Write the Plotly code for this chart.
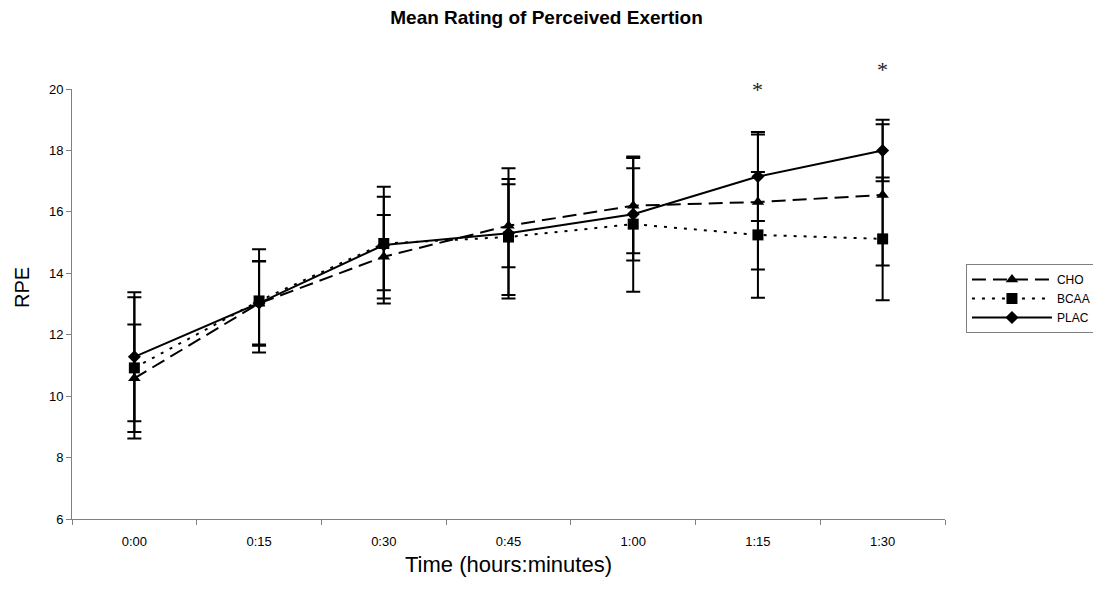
import plotly.graph_objects as go

times = ["0:00", "0:15", "0:30", "0:45", "1:00", "1:15", "1:30"]

cho_mean = [10.58, 13.02, 14.54, 15.55, 16.20, 16.32, 16.55]
cho_sd = [1.75, 1.38, 1.36, 1.35, 1.55, 2.20, 2.30]

bcaa_mean = [10.92, 13.10, 14.97, 15.18, 15.60, 15.25, 15.12]
bcaa_sd = [2.30, 1.68, 1.52, 1.89, 2.20, 2.05, 2.00]

plac_mean = [11.28, 13.03, 14.92, 15.30, 15.92, 17.15, 18.00]
plac_sd = [2.10, 1.35, 1.90, 2.12, 1.50, 1.45, 1.00]

sig_times = ["1:15", "1:30"]
sig_y = [20.0, 20.65]

Y_MIN, Y_MAX = 6, 20

series = [
    ("CHO", cho_mean, cho_sd, "14px,7px", "triangle-up", 11),
    ("BCAA", bcaa_mean, bcaa_sd, "3px,7px", "square", 11),
    ("PLAC", plac_mean, plac_sd, "solid", "diamond", 10),
]

fig = go.Figure()
for name, m, sd, dash, sym, size in series:
    fig.add_trace(go.Scatter(
        x=times, y=m, name=name, mode="lines+markers",
        line=dict(color="black", width=2, dash=dash),
        marker=dict(symbol=sym, size=size, color="black"),
        error_y=dict(type="data", array=sd, visible=True,
                     color="black", thickness=2, width=7),
    ))

for t, yv in zip(sig_times, sig_y):
    fig.add_annotation(x=t, y=(yv - Y_MIN) / (Y_MAX - Y_MIN), xref="x", yref="paper",
                       text="*", showarrow=False, yanchor="middle",
                       font=dict(family="Liberation Serif", size=22, color="#222"))

fig.add_annotation(x=0, y=(519 - 288) / 430, xref="paper", yref="paper",
                   xanchor="center", yanchor="middle", xshift=-50,
                   text="RPE", textangle=-90, showarrow=False,
                   font=dict(size=20))

fig.update_layout(
    width=1093, height=592,
    margin=dict(l=72, r=148, t=89, b=73, autoexpand=False),
    paper_bgcolor="white", plot_bgcolor="white",
    font=dict(family="Liberation Sans, Arial", color="black", size=13),
    title=dict(text="<b>Mean Rating of Perceived Exertion</b>",
               x=(546.5 - 72) / 873, xref="paper", xanchor="center",
               y=1 - 17 / 592, yref="container", yanchor="middle",
               font=dict(size=19, family="Liberation Sans, Arial")),
    showlegend=True,
    legend=dict(x=1.024, y=0.593, xanchor="left", yanchor="top",
                bordercolor="#808080", borderwidth=1, bgcolor="white",
                font=dict(size=12), tracegroupgap=0, itemwidth=80),
)

fig.update_xaxes(
    type="category", range=[-0.5, 6.5],
    showline=True, linecolor="#808080", linewidth=1,
    ticks="outside", tickson="boundaries", ticklen=5, tickcolor="#808080",
    showgrid=False, zeroline=False,
    tickfont=dict(size=13), ticklabelstandoff=10,
    title=dict(text="Time (hours:minutes)", font=dict(size=22), standoff=9),
)
fig.update_yaxes(
    range=[Y_MIN, Y_MAX], dtick=2, tick0=6,
    showline=True, linecolor="#808080", linewidth=1,
    ticks="outside", ticklen=5, tickcolor="#808080",
    showgrid=False, zeroline=False,
    tickfont=dict(size=13),
)

fig.write_html("out.html")
